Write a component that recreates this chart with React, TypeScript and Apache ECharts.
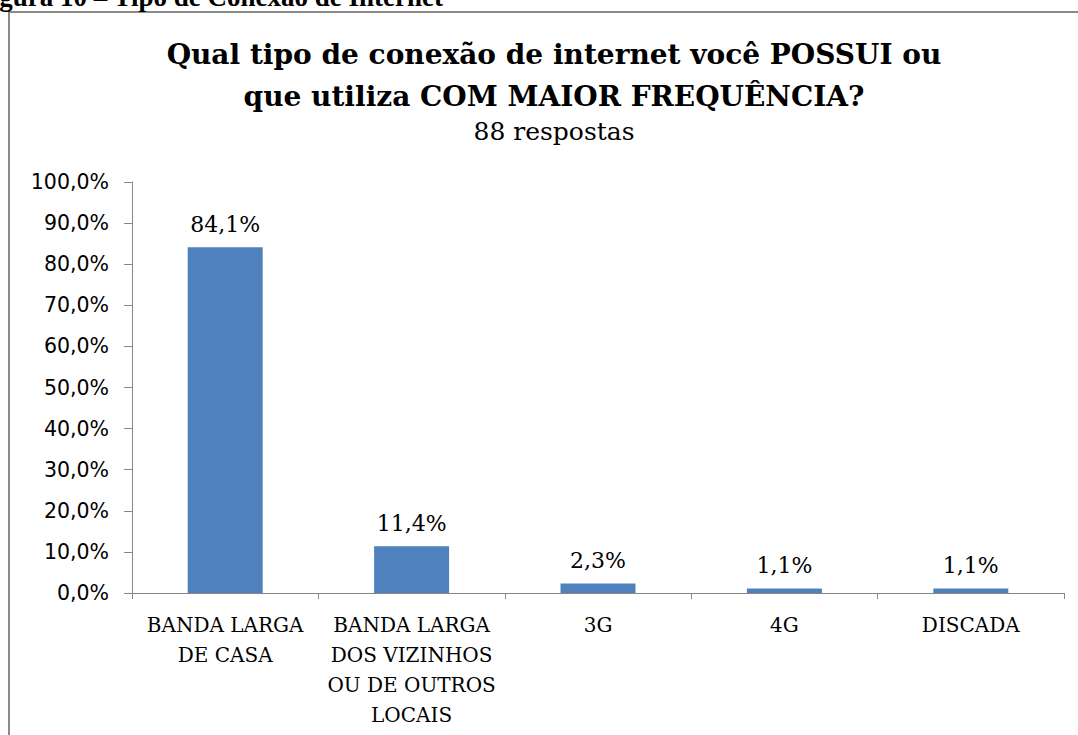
import React, { useEffect, useRef } from "react";
import * as echarts from "echarts";

const categories = [
  "BANDA LARGA\nDE CASA",
  "BANDA LARGA\nDOS VIZINHOS\nOU DE OUTROS\nLOCAIS",
  "3G",
  "4G",
  "DISCADA",
];
const values = [84.1, 11.4, 2.3, 1.1, 1.1];
const titleText = "Qual tipo de conexão de internet você POSSUI ou\nque utiliza COM MAIOR FREQUÊNCIA?";
const subtitleText = "88 respostas";
const captionText = "Figura 10 – Tipo de Conexão de Internet";

const fmt = (v: number) => v.toFixed(1).replace(".", ",") + "%";

export default function App() {
  const ref = useRef<HTMLDivElement>(null);
  useEffect(() => {
    if (!ref.current) return;
    const chart = echarts.init(ref.current, null, { renderer: "svg" });
    chart.setOption({
      animation: false,
      backgroundColor: "#ffffff",
      title: {
        text: titleText,
        subtext: subtitleText,
        left: 549,
        textAlign: "center",
        top: 28,
        itemGap: 2,
        textStyle: {
          fontFamily: "DejaVu Serif",
          fontWeight: "bold",
          fontSize: 28,
          lineHeight: 42,
          color: "#000",
        },
        subtextStyle: {
          fontFamily: "DejaVu Serif",
          fontSize: 25,
          color: "#000",
        },
      },
      graphic: [
        {
          type: "rect",
          shape: { x: 9, y: 12, width: 1200, height: 800 },
          style: { fill: "none", stroke: "#8a8a8a", lineWidth: 2 },
          silent: true,
        },
        {
          type: "text",
          x: 443,
          y: 10,
          style: {
            text: captionText,
            textAlign: "right",
            textVerticalAlign: "bottom",
            fontFamily: "Liberation Serif",
            fontWeight: "bold",
            fontSize: 27,
            fill: "#000",
          },
        },
      ],
      grid: { left: 132, right: 14, top: 182, bottom: 142 },
      xAxis: {
        type: "category",
        data: categories,
        axisLine: { lineStyle: { color: "#868686", width: 1 } },
        axisTick: { show: true, length: 6, alignWithLabel: false, lineStyle: { color: "#868686" } },
        axisLabel: {
          interval: 0,
          margin: 17,
          fontFamily: "DejaVu Serif",
          fontSize: 20,
          lineHeight: 30,
          color: "#000",
        },
      },
      yAxis: {
        type: "value",
        min: 0,
        max: 100,
        interval: 10,
        axisLine: { show: true, lineStyle: { color: "#868686", width: 1 } },
        axisTick: { show: true, length: 8, lineStyle: { color: "#868686" } },
        splitLine: { show: false },
        axisLabel: {
          margin: 23,
          fontFamily: "DejaVu Sans",
          fontSize: 20.5,
          color: "#000",
          formatter: (v: number) => fmt(v),
        },
      },
      series: [
        {
          type: "bar",
          data: values,
          barWidth: 75,
          itemStyle: { color: "#4F81BD" },
          label: {
            show: true,
            position: "top",
            distance: 12,
            fontFamily: "DejaVu Serif",
            fontSize: 22,
            color: "#000",
            formatter: (p: any) => fmt(p.value),
          },
        },
      ],
    });
    return () => chart.dispose();
  }, []);
  return (
    <div
      ref={ref}
      style={{ position: "fixed", left: 0, top: 0, width: 1078, height: 735 }}
    />
  );
}
